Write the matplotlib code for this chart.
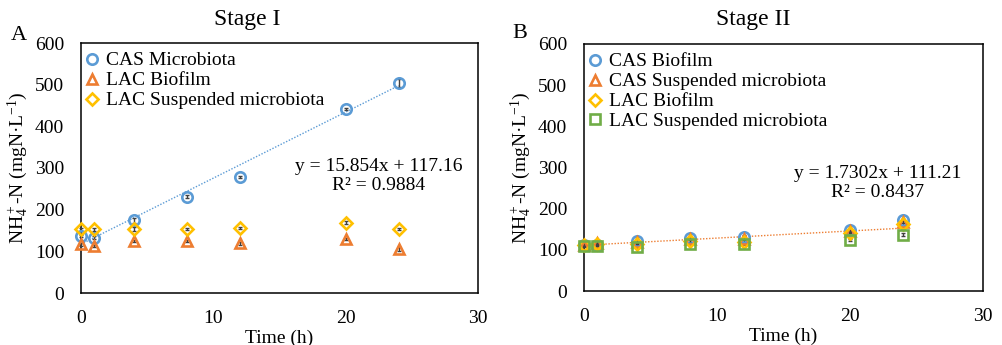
import matplotlib
matplotlib.use("Agg")
import matplotlib.pyplot as plt
import numpy as np

plt.rcParams['font.family'] = ['Liberation Serif', 'DejaVu Serif']
plt.rcParams['mathtext.fontset'] = 'custom'
plt.rcParams['mathtext.rm'] = 'Liberation Serif'
plt.rcParams['mathtext.it'] = 'Liberation Serif:italic'

# Sampling times (h)
time_h = [0, 1, 4, 8, 12, 20, 24]

# Stage I ammonium concentrations (mgN/L)
s1_cas_micro = [137, 133, 175, 231, 279, 442, 504]
s1_cas_micro_err = [3, 3, 6, 4, 3, 3, 10]
s1_lac_biofilm = [117, 113, 125, 125, 119, 130, 105]
s1_lac_biofilm_err = [3, 3, 3, 3, 3, 3, 5]
s1_lac_susp = [153, 153, 154, 154, 156, 169, 154]
s1_lac_susp_err = [3, 3, 5, 3, 3, 3, 3]

# Stage II ammonium concentrations (mgN/L)
s2_cas_biofilm = [112, 112, 121, 129, 132, 148, 172]
s2_cas_susp = [112, 117, 118, 126, 127, 145, 168]
s2_lac_biofilm = [111, 114, 114, 121, 120, 140, 162]
s2_lac_susp = [110, 110, 108, 113, 114, 124, 137]
s2_err = [3, 3, 3, 3, 3, 3, 3]

# Linear trend lines shown on the panels
fit1_slope, fit1_icpt, fit1_r2 = 15.854, 117.16, 0.9884
fit2_slope, fit2_icpt, fit2_r2 = 1.7302, 111.21, 0.8437

BLUE = '#5B9BD5'
ORANGE = '#ED7D31'
GOLD = '#FFC000'
GREEN = '#70AD47'

W, H = 1002, 345
fig = plt.figure(figsize=(W / 100, H / 100), dpi=100)


def px_axes(x0, x1, ytop, ybot):
    return fig.add_axes([x0 / W, (H - ybot) / H, (x1 - x0) / W, (ybot - ytop) / H])


def style_axes(ax):
    ax.set_xlim(0, 30)
    ax.set_ylim(0, 600)
    ax.set_xticks([0, 10, 20, 30])
    ax.set_yticks(range(0, 601, 100))
    ax.tick_params(length=0, labelsize=14)
    ax.tick_params(axis='x', pad=12)
    ax.tick_params(axis='y', pad=12)
    for s in ax.spines.values():
        s.set_linewidth(1.1)
        s.set_color('black')
    ax.set_xlabel('Time (h)', fontsize=14, labelpad=2)
    ax.set_ylabel(r'NH$_4^+$-N (mgN·L$^{-1}$)', fontsize=14, labelpad=3)


def series(ax, y, err, marker, color, label, ms=7.5):
    ax.errorbar(time_h, y, yerr=err, fmt='none', ecolor='#404040',
                elinewidth=1.0, capsize=1.5, capthick=1.0, zorder=3,
                clip_on=False)
    ax.plot(time_h, y, linestyle='none', marker=marker, markersize=ms,
            markerfacecolor='none', markeredgecolor=color,
            markeredgewidth=1.9, label=label, zorder=4, clip_on=False)


def add_legend(ax, width_px, height_px):
    ax.legend(loc='upper left', frameon=False, fontsize=14, handletextpad=0.25,
              bbox_to_anchor=(-4 / width_px, 1 - 4 / height_px),
              borderaxespad=0.0, labelspacing=0.12, handlelength=1.0,
              borderpad=0.25)


fit_x = np.array([0, 24])

# Panel A
axA = px_axes(81, 478, 43, 293)
style_axes(axA)
series(axA, s1_cas_micro, s1_cas_micro_err, 'o', BLUE, 'CAS Microbiota')
series(axA, s1_lac_biofilm, s1_lac_biofilm_err, '^', ORANGE, 'LAC Biofilm')
series(axA, s1_lac_susp, s1_lac_susp_err, 'D', GOLD, 'LAC Suspended microbiota', ms=6)
axA.plot(fit_x, fit1_slope * fit_x + fit1_icpt, linestyle=(0, (1, 1.2)),
         color=BLUE, linewidth=1.0, zorder=2)
axA.text(379 / W, (H - 176) / H,
         f'y = {fit1_slope}x + {fit1_icpt}\nR² = {fit1_r2}',
         transform=fig.transFigure, ha='center', va='center', fontsize=14,
         linespacing=1.2)
add_legend(axA, 397, 250)

# Panel B
axB = px_axes(584, 983, 44, 291)
style_axes(axB)
series(axB, s2_cas_biofilm, s2_err, 'o', BLUE, 'CAS Biofilm')
series(axB, s2_cas_susp, s2_err, '^', ORANGE, 'CAS Suspended microbiota')
series(axB, s2_lac_biofilm, s2_err, 'D', GOLD, 'LAC Biofilm', ms=6)
series(axB, s2_lac_susp, s2_err, 's', GREEN, 'LAC Suspended microbiota', ms=7)
axB.plot(fit_x, fit2_slope * fit_x + fit2_icpt, linestyle=(0, (1, 1.2)),
         color=ORANGE, linewidth=1.0, zorder=2)
axB.text(878 / W, (H - 183) / H,
         f'y = {fit2_slope}x + {fit2_icpt}\nR² = {fit2_r2}',
         transform=fig.transFigure, ha='center', va='center', fontsize=14,
         linespacing=1.2)
add_legend(axB, 399, 247)

# Titles and panel letters
fig.text(247 / W, (H - 19) / H, 'Stage I', ha='center', va='center', fontsize=17)
fig.text(753 / W, (H - 19) / H, 'Stage II', ha='center', va='center', fontsize=17)
fig.text(19 / W, (H - 35) / H, 'A', ha='center', va='center', fontsize=16)
fig.text(520 / W, (H - 34) / H, 'B', ha='center', va='center', fontsize=16)

fig.savefig('out.png', dpi=100)
